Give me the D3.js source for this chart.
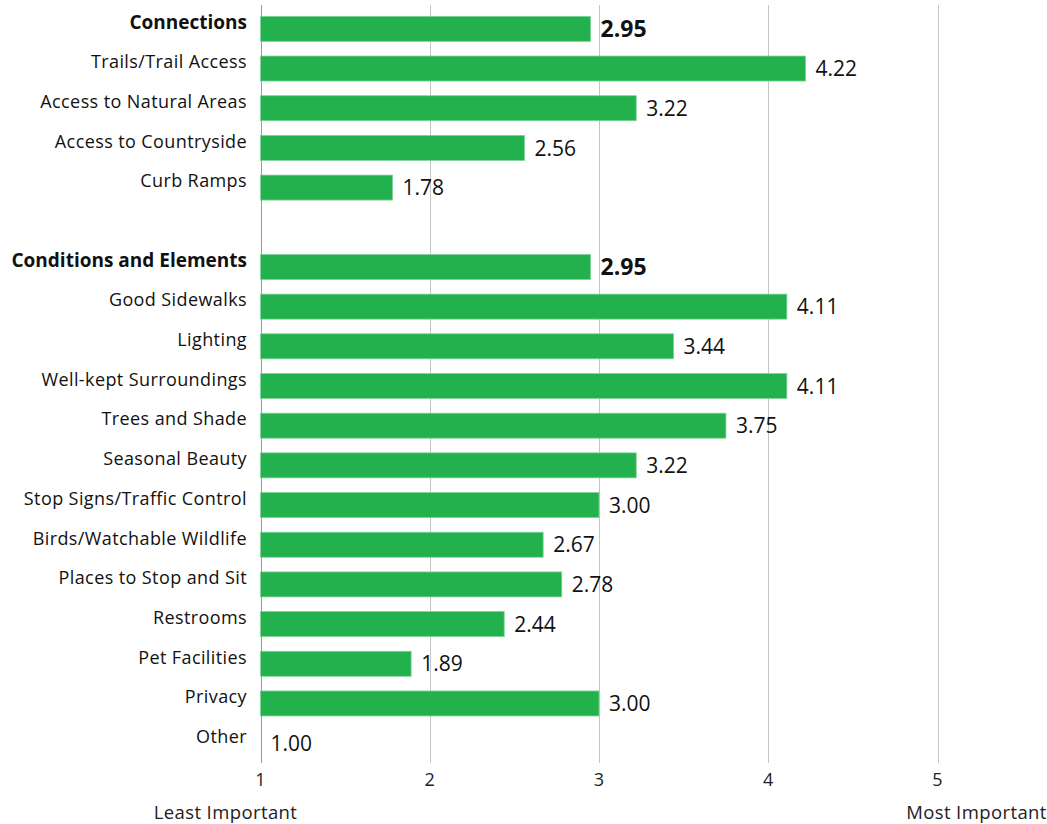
<!DOCTYPE html>
<html>
<head>
<meta charset="utf-8">
<script src="https://cdn.jsdelivr.net/npm/d3@7"></script>
<style>
  html, body { margin: 0; padding: 0; background: #fff; }
  svg { display: block; font-family: "Open Sans", Lato, sans-serif; }
</style>
</head>
<body>
<svg id="chart" width="1047" height="824"></svg>
<script>
// Average importance ratings (1 = least important, 5 = most important)
const categories = [
  "Connections", "Trails/Trail Access", "Access to Natural Areas", "Access to Countryside", "Curb Ramps",
  "",
  "Conditions and Elements", "Good Sidewalks", "Lighting", "Well-kept Surroundings", "Trees and Shade",
  "Seasonal Beauty", "Stop Signs/Traffic Control", "Birds/Watchable Wildlife", "Places to Stop and Sit",
  "Restrooms", "Pet Facilities", "Privacy", "Other"
];
const values = [
  2.95, 4.22, 3.22, 2.56, 1.78,
  null,
  2.95, 4.11, 3.44, 4.11, 3.75, 3.22, 3.00, 2.67, 2.78, 2.44, 1.89, 3.00, 1.00
];
const headers = ["Connections", "Conditions and Elements"];
const tickValues = [1, 2, 3, 4, 5];
const endLabels = ["Least Important", "Most Important"];

const svg = d3.select("#chart");
const rows = categories.map((c, i) => ({ key: "r" + i, label: c, value: values[i], header: headers.includes(c) }));

const x = d3.scaleLinear().domain([1, 5]).range([260.5, 937.5]);
const y = d3.scaleBand().domain(rows.map(d => d.key)).range([9, 763]).paddingInner(0.37).paddingOuter(0.185);

const plotTop = 5, plotBottom = 763;

// vertical gridlines
svg.append("g").selectAll("line")
  .data(tickValues)
  .join("line")
  .attr("x1", d => Math.round(x(d)) + 0.5)
  .attr("x2", d => Math.round(x(d)) + 0.5)
  .attr("y1", plotTop)
  .attr("y2", plotBottom)
  .attr("stroke", d => d === 1 ? "#9a9a9a" : "#c4c4c4")
  .attr("stroke-width", 1);

// tick labels
svg.append("g").selectAll("text")
  .data(tickValues)
  .join("text")
  .attr("x", d => x(d))
  .attr("y", 786)
  .attr("text-anchor", "middle")
  .attr("font-size", 18)
  .attr("fill", "#222")
  .text(d => d);

// scale end descriptions
svg.append("text").attr("x", x(1) - 35).attr("y", 819).attr("text-anchor", "middle")
  .attr("font-size", 18.5).attr("letter-spacing", 0.4).attr("fill", "#222").text(endLabels[0]);
svg.append("text").attr("x", x(5) + 39).attr("y", 819).attr("text-anchor", "middle")
  .attr("font-size", 18.5).attr("letter-spacing", 0.4).attr("fill", "#222").text(endLabels[1]);

const data = rows.filter(d => d.label !== "");

// bars
svg.append("g").selectAll("rect")
  .data(data.filter(d => d.value > 1))
  .join("rect")
  .attr("x", x(1))
  .attr("y", d => y(d.key))
  .attr("width", d => x(d.value) - x(1))
  .attr("height", y.bandwidth())
  .attr("fill", "#22b14c")
  .attr("stroke", "#7fd39a")
  .attr("stroke-width", 0.8);

// category labels
svg.append("g").selectAll("text")
  .data(data)
  .join("text")
  .attr("x", 247)
  .attr("y", d => y(d.key) + y.bandwidth() / 2 - 5)
  .attr("text-anchor", "end")
  .attr("dominant-baseline", "middle")
  .attr("font-size", d => d.header ? 19 : 18)
  .attr("font-weight", d => d.header ? 700 : 400)
  .attr("letter-spacing", d => d.header ? 0 : 0.4)
  .attr("fill", "#111")
  .text(d => d.label);

// value labels
svg.append("g").selectAll("text")
  .data(data)
  .join("text")
  .attr("x", d => x(d.value) + 10)
  .attr("y", d => y(d.key) + y.bandwidth() / 2 + 2)
  .attr("dominant-baseline", "middle")
  .attr("font-size", d => d.header ? 23 : 21)
  .attr("font-weight", d => d.header ? 700 : 400)
  .attr("fill", "#111")
  .text(d => d3.format(".2f")(d.value));
</script>
</body>
</html>
